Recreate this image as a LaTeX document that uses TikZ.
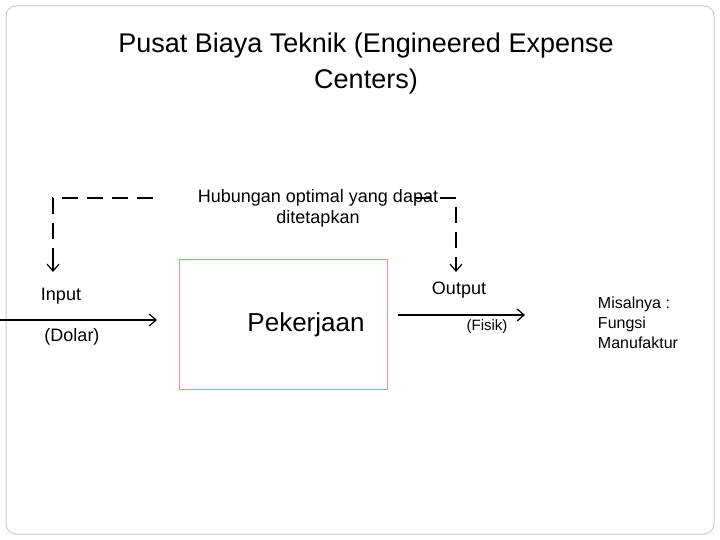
\documentclass[tikz,border=0pt]{standalone}
\usepackage{fontspec}
\setmainfont{Liberation Sans}
\usetikzlibrary{arrows.meta}
\definecolor{boxc}{RGB}{222,150,120}
\begin{document}
\begin{tikzpicture}[x=1pt,y=-1pt,
  lbl/.style={inner sep=0pt,font=\fontsize{18}{21}\selectfont,align=center},
  dsh/.style={line width=2pt,dash pattern=on 16pt off 9pt},
  tip/.style={line width=1.2pt,-{Straight Barb[length=7pt,width=12pt]}},
  arr/.style={line width=2pt,-{Straight Barb[length=7pt,width=12pt,line width=1.2pt]}}]
\useasboundingbox (0,0) rectangle (720,540);
\draw[gray!40,line width=1pt,rounded corners=10pt] (6,6) rectangle (714,534);
\node[inner sep=0pt,align=center,font=\fontsize{27}{36}\selectfont] (title) at (366,64) {Pusat Biaya Teknik (Engineered Expense\\Centers)};
\node[lbl] (hub) at (318,208) {Hubungan optimal yang dapat\\ditetapkan};
\node[draw=boxc,line width=1pt,minimum width=208pt,minimum height=130pt,inner sep=0pt] (box) at (283,324) {};
\node[inner sep=0pt,font=\fontsize{26}{30}\selectfont] (pek) at (306,325) {Pekerjaan};
\node[lbl] (in) at (61,296) {Input};
\node[lbl] (dol) at (72,337) {(Dolar)};
\node[lbl] (out) at (459,290) {Output};
\node[inner sep=0pt,font=\fontsize{15}{18}\selectfont] (fis) at (487,327) {(Fisik)};
\node[lbl,align=left,font=\fontsize{16}{20}\selectfont] (mis) at (638,323) {Misalnya :\\Fungsi\\Manufaktur};
\coordinate (a0) at (0,320); \coordinate (a1) at (157,320);
\coordinate (b0) at (398,315); \coordinate (b1) at (525,315);
\coordinate (l0) at (153,198); \coordinate (lc) at (53,198); \coordinate (lm) at (53,258); \coordinate (l1) at (53,272);
\coordinate (r0) at (415,198); \coordinate (rc) at (456,198); \coordinate (rm) at (456,258); \coordinate (r1) at (456,272);
\draw[arr] (a0) -- (a1);
\draw[arr] (b0) -- (b1);
\draw[dsh] (l0) -- (lc) -- (lm);
\draw[dsh] (r0) -- (rc) -- (rm);
\draw[tip] (lm) -- (l1);
\draw[tip] (rm) -- (r1);
\end{tikzpicture}
\end{document}
